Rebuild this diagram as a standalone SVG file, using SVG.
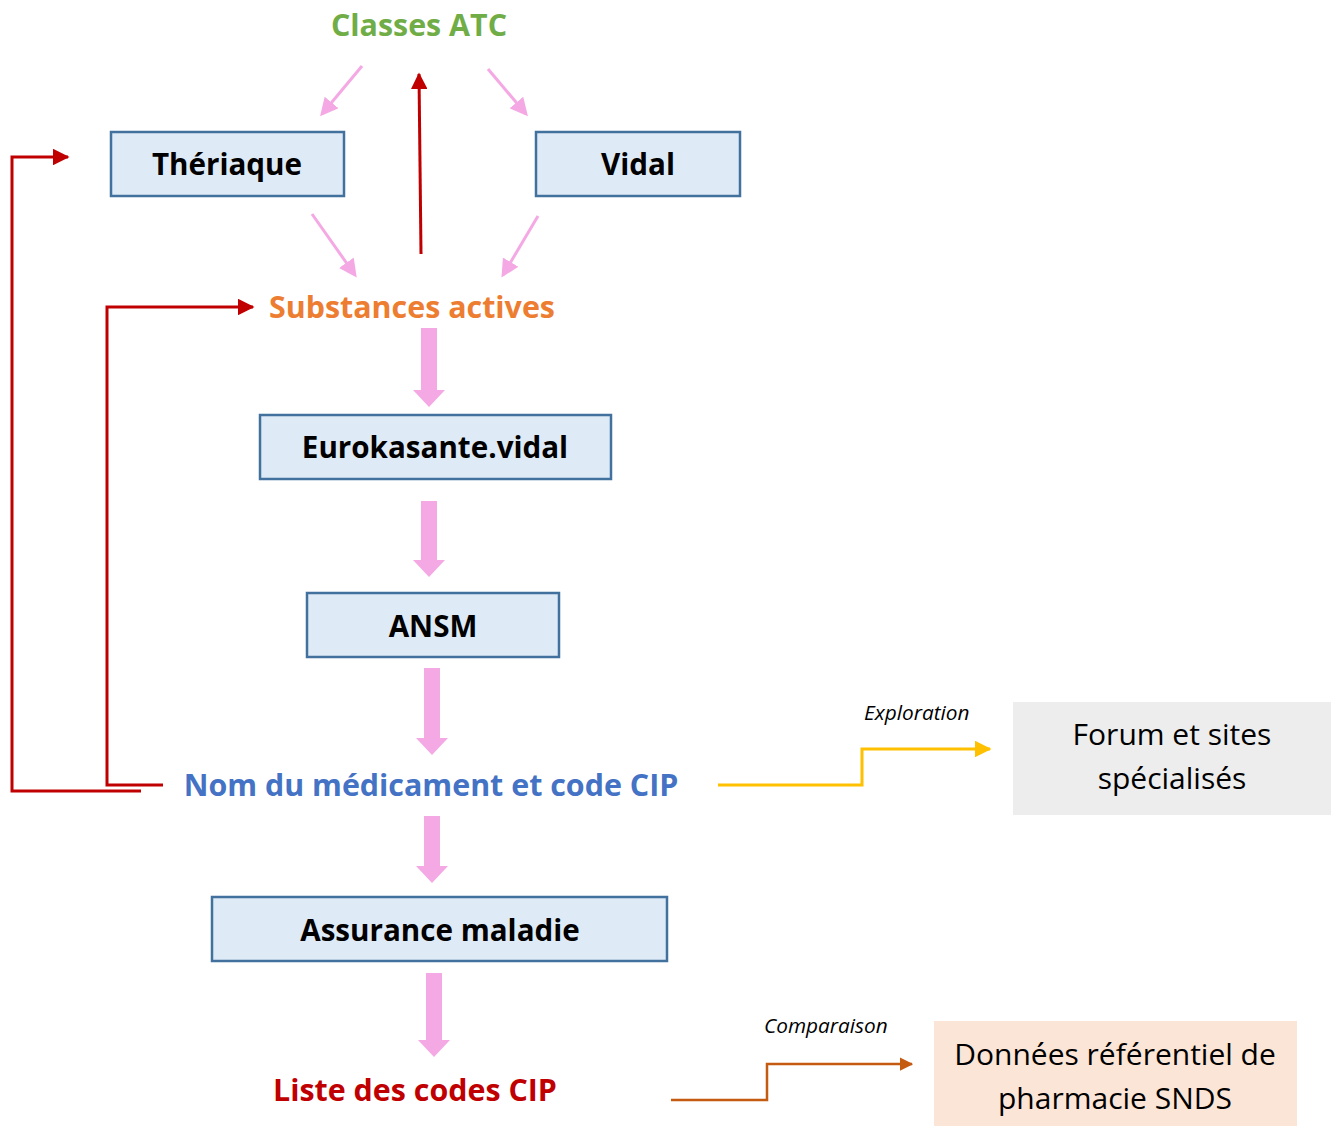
<svg xmlns="http://www.w3.org/2000/svg" width="1338" height="1126" viewBox="0 0 1338 1126">
<style>
.box{fill:#DEEAF6;stroke:#41719C;stroke-width:2.5}
.nt{font-family:"Open Sans","Noto Sans",sans-serif;font-weight:bold;font-size:29.6px;fill:#000;text-anchor:middle}
.lt{font-family:"Open Sans","Noto Sans",sans-serif;font-weight:bold;font-size:30.4px;text-anchor:middle}
.pt{font-family:"Open Sans","Noto Sans",sans-serif;font-size:30px;fill:#000;text-anchor:middle}
.it{font-family:"Open Sans","Noto Sans",sans-serif;font-style:italic;font-size:20.8px;fill:#000}
.thin{stroke:#F4A9E4;stroke-width:3;fill:none}
.red{stroke:#C00000;stroke-width:3;fill:none}
.blk{fill:#F4A9E4}
</style>
<defs>
<marker id="mp" markerWidth="6" markerHeight="6" refX="5" refY="3" orient="auto" markerUnits="strokeWidth"><path d="M0,0 L6,3 L0,6 Z" fill="#F4A9E4"/></marker>
<marker id="mr" markerWidth="5.5" markerHeight="5.5" refX="5" refY="2.75" orient="auto" markerUnits="strokeWidth"><path d="M0,0 L5.5,2.75 L0,5.5 Z" fill="#C00000"/></marker>
<marker id="my" markerWidth="5.5" markerHeight="5.5" refX="5" refY="2.75" orient="auto" markerUnits="strokeWidth"><path d="M0,0 L5.5,2.75 L0,5.5 Z" fill="#FFC000"/></marker>
<marker id="mo" markerWidth="5.5" markerHeight="5.5" refX="5" refY="2.75" orient="auto" markerUnits="strokeWidth"><path d="M0,0 L5.5,2.75 L0,5.5 Z" fill="#C55A11"/></marker>
</defs>
<rect width="1338" height="1126" fill="#fff"/>
<g id="connectors">
<line class="thin" x1="362" y1="66" x2="322" y2="114" marker-end="url(#mp)"/>
<line class="thin" x1="488" y1="69" x2="526" y2="114" marker-end="url(#mp)"/>
<line class="thin" x1="312" y1="214" x2="355" y2="275" marker-end="url(#mp)"/>
<line class="thin" x1="538" y1="216" x2="503" y2="275" marker-end="url(#mp)"/>
<line class="red" x1="421" y1="254" x2="419" y2="74" marker-end="url(#mr)"/>
<polyline class="red" points="163,785 107,785 107,307 253,307" marker-end="url(#mr)"/>
<polyline class="red" points="141,791 12,791 12,157 68,157" marker-end="url(#mr)"/>
<polyline points="718,785 862,785 862,749 990,749" stroke="#FFC000" stroke-width="3" fill="none" marker-end="url(#my)"/>
<polyline points="671,1100 767,1100 767,1064 912,1064" stroke="#C55A11" stroke-width="2.5" fill="none" marker-end="url(#mo)"/>
<path class="blk" d="M421,328 H437 V390 H445 L429,407 L413,390 H421 Z"/>
<path class="blk" d="M421,501 H437 V560 H445 L429,577 L413,560 H421 Z"/>
<path class="blk" d="M424,668 H440 V738 H448 L432,755 L416,738 H424 Z"/>
<path class="blk" d="M424,816 H440 V866 H448 L432,883 L416,866 H424 Z"/>
<path class="blk" d="M426,973 H442 V1040 H450 L434,1057 L418,1040 H426 Z"/>
<text class="it" x="864" y="720">Exploration</text>
<text class="it" x="764" y="1033">Comparaison</text>
</g>
<g id="classes-atc"><text class="lt" x="419" y="36" fill="#70AD47">Classes ATC</text></g>
<g id="theriaque"><rect class="box" x="111" y="132" width="233" height="64"/><text class="nt" x="227" y="175">Thériaque</text></g>
<g id="vidal"><rect class="box" x="536" y="132" width="204" height="64"/><text class="nt" x="638" y="175">Vidal</text></g>
<g id="substances"><text class="lt" x="412" y="318" fill="#ED7D31">Substances actives</text></g>
<g id="eurokasante"><rect class="box" x="260" y="415" width="351" height="64"/><text class="nt" x="435" y="458">Eurokasante.vidal</text></g>
<g id="ansm"><rect class="box" x="307" y="593" width="252" height="64"/><text class="nt" x="433" y="637">ANSM</text></g>
<g id="nom"><text class="lt" x="431" y="796" fill="#4472C4">Nom du médicament et code CIP</text></g>
<g id="forum"><rect x="1013" y="702" width="318" height="113" fill="#EDEDED"/><text class="pt" x="1172" y="745">Forum et sites</text><text class="pt" x="1172" y="789">spécialisés</text></g>
<g id="assurance"><rect class="box" x="212" y="897" width="455" height="64"/><text class="nt" x="440" y="941">Assurance maladie</text></g>
<g id="liste"><text class="lt" x="415" y="1101" fill="#C00000">Liste des codes CIP</text></g>
<g id="donnees"><rect x="934" y="1021" width="363" height="105" fill="#FBE5D6"/><text class="pt" x="1115" y="1065">Données référentiel de</text><text class="pt" x="1115" y="1109">pharmacie SNDS</text></g>
</svg>
